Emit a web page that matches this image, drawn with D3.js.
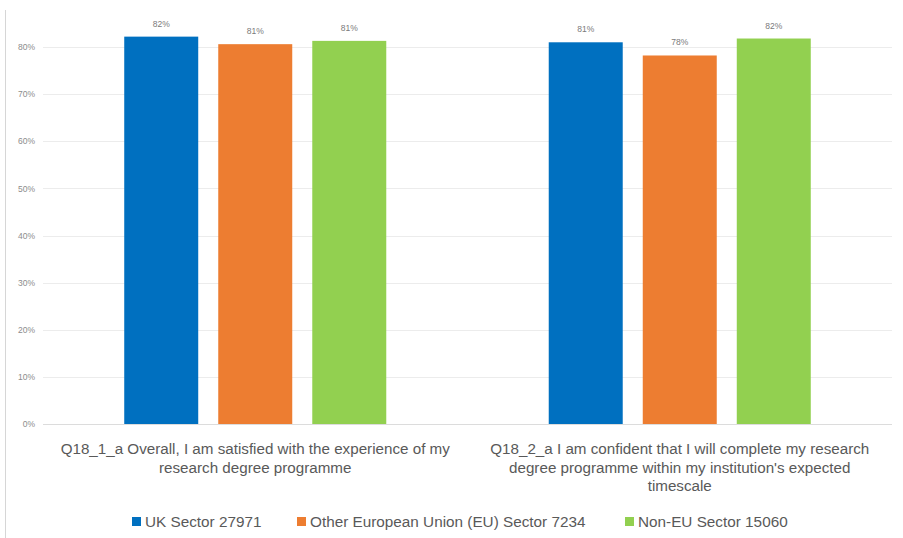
<!DOCTYPE html>
<html>
<head>
<meta charset="utf-8">
<script src="https://cdn.jsdelivr.net/npm/d3@7"></script>
<style>
  body { margin: 0; background: #fff; }
  svg { display: block; font-family: "Liberation Sans", Arial, sans-serif; }
  .tick text { fill: #8c8c8c; font-size: 8.5px; }
  .catLabel { fill: #595959; font-size: 15.2px; }
  .valLabel { fill: #7a7a7a; font-size: 8.5px; }
  .legendText { fill: #595959; font-size: 15.3px; }
</style>
</head>
<body>
<div id="chart"></div>
<script>
var svgWidth = 903;
var svgHeight = 538;

// data
var questions = ["q1", "q2"];
var questionLabels = [
  ["Q18_1_a Overall, I am satisfied with the experience of my", "research degree programme"],
  ["Q18_2_a I am confident that I will complete my research", "degree programme within my institution's expected", "timescale"]
];
var seriesNames = ["UK Sector 27971", "Other European Union (EU) Sector 7234", "Non-EU Sector 15060"];
var seriesColors = ["#0070C0", "#ED7D31", "#92D050"];
var ukValues = [0.822, 0.810];
var euValues = [0.806, 0.782];
var nonEuValues = [0.813, 0.818];
var valueLabels = [["82%", "81%"], ["81%", "78%"], ["81%", "82%"]];
var yTicks = [0, 0.1, 0.2, 0.3, 0.4, 0.5, 0.6, 0.7, 0.8];

var allValues = [ukValues, euValues, nonEuValues];

var plot = { left: 43, right: 892, top: 47, bottom: 424 };

var svg = d3.select("#chart")
  .append("svg")
  .attr("width", svgWidth)
  .attr("height", svgHeight);

// faint frame edge on the left
svg.append("line")
  .attr("x1", 5.5).attr("x2", 5.5)
  .attr("y1", 10).attr("y2", svgHeight)
  .attr("stroke", "#d6d6d6");

var yScale = d3.scaleLinear()
  .domain([0, 0.8])
  .range([plot.bottom, plot.top]);

var x0 = d3.scaleBand()
  .domain(questions)
  .range([plot.left, plot.right]);

var x1 = d3.scaleBand()
  .domain(d3.range(seriesNames.length))
  .range([0, x0.bandwidth()])
  .paddingInner(0.213)
  .paddingOuter(0.864);

// gridlines
svg.append("g")
  .selectAll("line")
  .data(yTicks)
  .enter()
  .append("line")
  .attr("x1", plot.left)
  .attr("x2", plot.right)
  .attr("y1", d => Math.round(yScale(d)) + 0.5)
  .attr("y2", d => Math.round(yScale(d)) + 0.5)
  .attr("stroke", d => d === 0 ? "#dcdcdc" : "#ececec");

// y axis labels
var leftAxis = d3.axisLeft(yScale)
  .tickValues(yTicks)
  .tickFormat(d3.format(".0%"))
  .tickSize(0)
  .tickPadding(8);

svg.append("g")
  .attr("transform", `translate(${plot.left}, 0)`)
  .call(leftAxis)
  .call(g => g.select(".domain").remove());

// bars
allValues.forEach(function(vals, s) {
  svg.append("g")
    .selectAll("rect")
    .data(vals)
    .enter()
    .append("rect")
    .attr("x", (d, i) => x0(questions[i]) + x1(s))
    .attr("width", x1.bandwidth())
    .attr("y", d => yScale(d))
    .attr("height", d => plot.bottom - yScale(d))
    .attr("fill", seriesColors[s]);

  svg.append("g")
    .selectAll("text")
    .data(vals)
    .enter()
    .append("text")
    .classed("valLabel", true)
    .attr("x", (d, i) => x0(questions[i]) + x1(s) + x1.bandwidth() / 2)
    .attr("y", d => yScale(d) - 10)
    .attr("text-anchor", "middle")
    .text((d, i) => valueLabels[s][i]);
});

// category labels
questions.forEach(function(q, i) {
  var t = svg.append("text")
    .classed("catLabel", true)
    .attr("text-anchor", "middle");
  questionLabels[i].forEach(function(line, j) {
    t.append("tspan")
      .attr("x", x0(q) + x0.bandwidth() / 2)
      .attr("y", 454 + j * 18.5)
      .text(line);
  });
});

// legend
var legendX = [132, 297, 625];
var legend = svg.append("g");
seriesNames.forEach(function(name, i) {
  legend.append("rect")
    .attr("x", legendX[i])
    .attr("y", 517)
    .attr("width", 9)
    .attr("height", 9)
    .attr("fill", seriesColors[i]);
  legend.append("text")
    .classed("legendText", true)
    .attr("x", legendX[i] + 13)
    .attr("y", 527)
    .text(name);
});
</script>
</body>
</html>
